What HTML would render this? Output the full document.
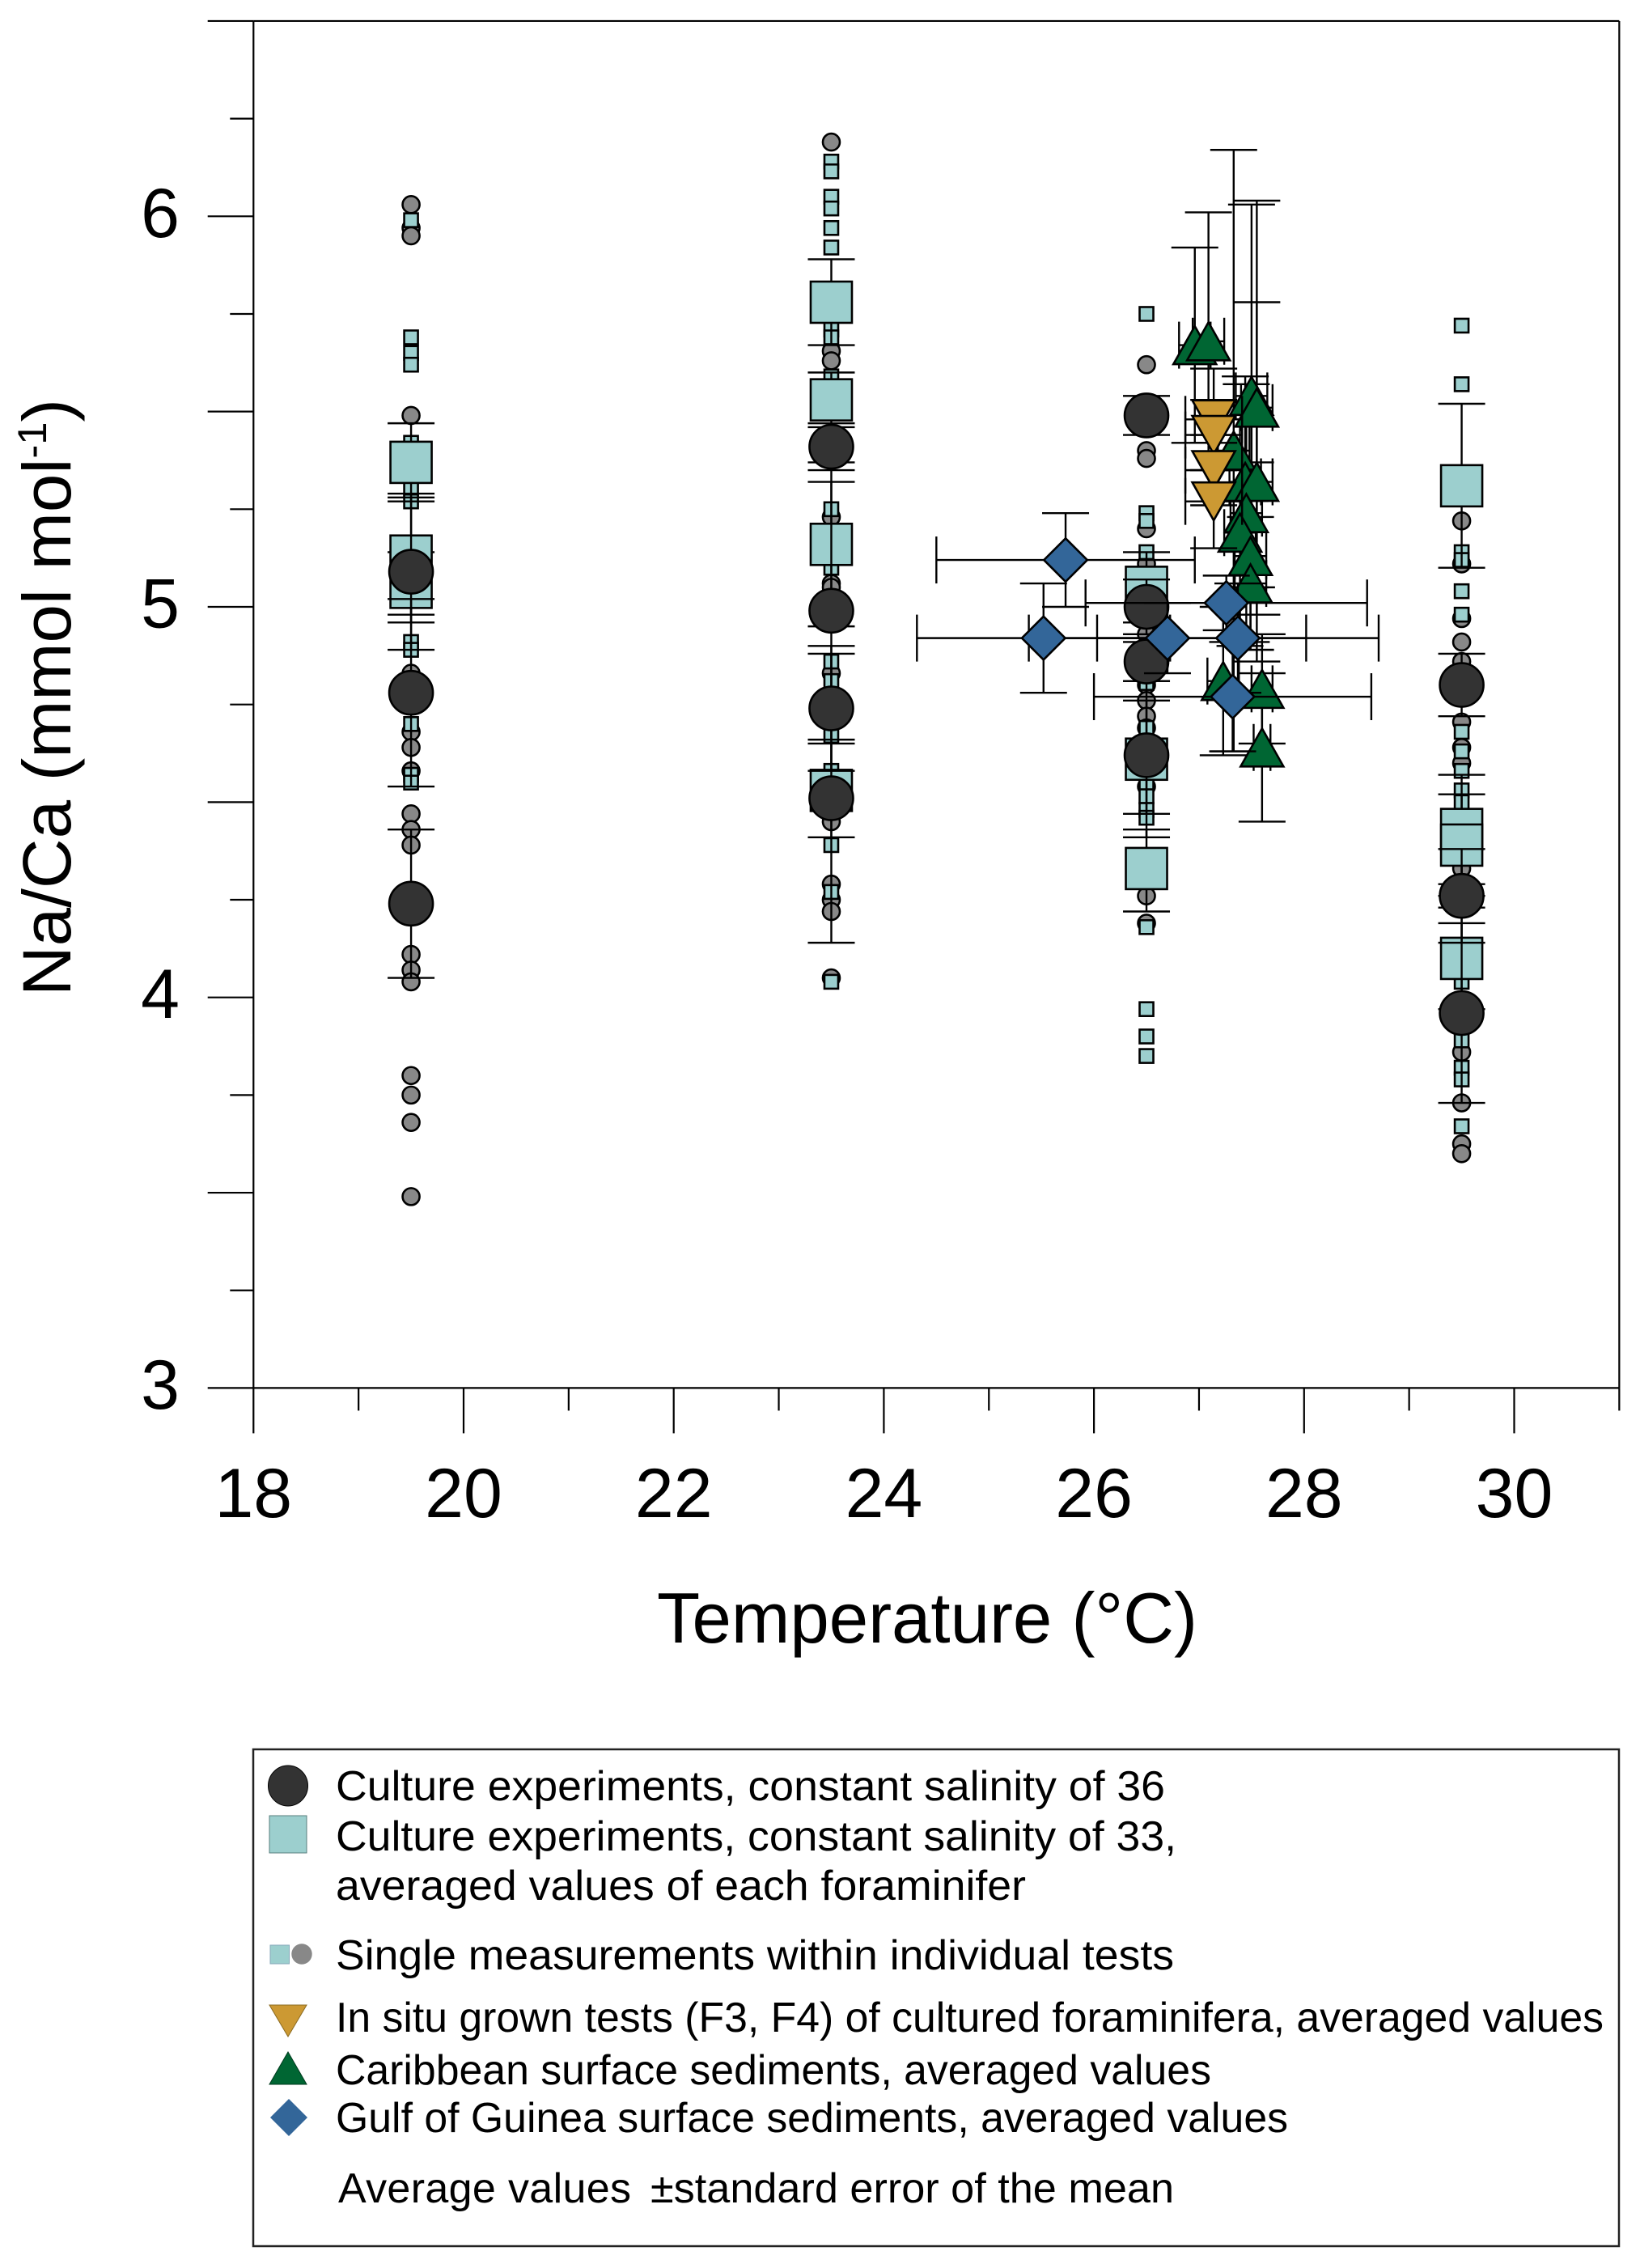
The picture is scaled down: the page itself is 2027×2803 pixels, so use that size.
<!DOCTYPE html>
<html lang="en">
<head>
<meta charset="utf-8">
<title>Na/Ca versus temperature</title>
<style>
html,body{margin:0;padding:0;background:#fff}
svg{display:block}
text{font-family:"Liberation Sans",Arial,sans-serif;fill:#000}
</style>
</head>
<body>
<svg id="chart" xmlns="http://www.w3.org/2000/svg" width="2027" height="2803" viewBox="0 0 2027 2803">
  <rect x="0" y="0" width="2027" height="2803" fill="#fff"/>
  <g id="axes"></g>
  <g id="marks"></g>
  <text x="812" y="2030" font-size="88" textLength="668" lengthAdjust="spacingAndGlyphs">Temperature (°C)</text>
  <text transform="translate(87,1231) rotate(-90)" font-size="84" textLength="738" lengthAdjust="spacingAndGlyphs">Na/Ca (mmol mol<tspan font-size="50" dy="-30">-1</tspan><tspan dy="30">)</tspan></text>

  <g>
    <rect x="313" y="2162" width="1688" height="614" fill="#fff" stroke="#222" stroke-width="2.5"/>
    <ellipse cx="356" cy="2207" rx="24.5" ry="25" fill="#333" stroke="#000" stroke-width="1"/>
    <rect x="333" y="2244" width="46" height="46" fill="#9ccfce" stroke="#5a7f7e" stroke-width="1"/>
    <rect x="334" y="2404" width="23.5" height="23" fill="#9ccfce" stroke="#8ab" stroke-width="1"/>
    <circle cx="373" cy="2415" r="12.7" fill="#888"/>
    <polygon points="333,2478 379,2478 356,2517" fill="#cc9933" stroke="#8a6a20" stroke-width="1"/>
    <polygon points="333,2576 379,2576 356,2536" fill="#006633" stroke="#003a1d" stroke-width="1"/>
    <polygon points="357,2594 380,2617 357,2640 334,2617" fill="#336699"/>
    <text x="415" y="2225" font-size="52" textLength="1025" lengthAdjust="spacingAndGlyphs">Culture experiments, constant salinity of 36</text>
    <text x="415" y="2287" font-size="52" textLength="1039" lengthAdjust="spacingAndGlyphs">Culture experiments, constant salinity of 33,</text>
    <text x="415" y="2348" font-size="52" textLength="853" lengthAdjust="spacingAndGlyphs">averaged values of each foraminifer</text>
    <text x="415" y="2434" font-size="52" textLength="1036" lengthAdjust="spacingAndGlyphs">Single measurements within individual tests</text>
    <text x="415" y="2511" font-size="52" textLength="1567" lengthAdjust="spacingAndGlyphs">In situ grown tests (F3, F4) of cultured foraminifera, averaged values</text>
    <text x="415" y="2576" font-size="52" textLength="1082" lengthAdjust="spacingAndGlyphs">Caribbean surface sediments, averaged values</text>
    <text x="415" y="2635" font-size="52" textLength="1177" lengthAdjust="spacingAndGlyphs">Gulf of Guinea surface sediments, averaged values</text>
    <text x="418" y="2722" font-size="52" textLength="362" lengthAdjust="spacing">Average values</text>
    <text x="804" y="2722" font-size="52" textLength="647" lengthAdjust="spacingAndGlyphs">±standard error of the mean</text>
  </g>
</svg>
<script>
// ---- axis tick data ----
const xTickValues = [18,19,20,21,22,23,24,25,26,27,28,29,30,31];
const xTickLabels = ["18","","20","","22","","24","","26","","28","","30",""];
const yTickValues = [3,3.25,3.5,3.75,4,4.25,4.5,4.75,5,5.25,5.5,5.75,6,6.25,6.5];
const yMajorValues = [3,3.5,4,4.5,5,5.5,6,6.5];
const yLabelValues = [3,4,5,6];

// ---- single measurements: grey circles ----
const singleCircleTemps = [19.5,23.5,26.5,29.5];
const singleCircles195 = [6.03,5.97,5.95,5.49,5.12,4.83,4.68,4.64,4.58,4.47,4.43,4.39,4.11,4.07,4.04,3.80,3.75,3.68,3.49];
const singleCircles235 = [6.19,5.655,5.63,5.23,5.06,5.05,4.83,4.45,4.29,4.25,4.22,4.05];
const singleCircles265 = [5.62,5.40,5.38,5.20,5.11,4.93,4.80,4.76,4.72,4.69,4.54,4.26,4.19];
const singleCircles295 = [5.22,5.11,4.97,4.91,4.86,4.705,4.64,4.60,4.33,3.86,3.73,3.625,3.60];

// ---- single measurements: teal squares ----
const singleSquares195 = [5.99,5.69,5.65,5.62,5.42,5.30,5.27,5.15,5.05,4.91,4.89,4.70,4.57,4.55];
const singleSquares235 = [6.14,6.115,6.05,6.02,5.97,5.92,5.71,5.69,5.59,5.25,5.10,4.86,4.81,4.67,4.58,4.39,4.27,4.04];
const singleSquares265 = [5.75,5.24,5.22,5.14,4.805,4.69,4.55,4.515,4.48,4.46,4.18,3.97,3.90,3.85];
const singleSquares295 = [5.72,5.57,5.14,5.12,5.04,4.98,4.68,4.63,4.58,4.53,4.50,4.04,3.89,3.82,3.79,3.67];

// ---- salinity 33 averages ----
const squareTemps = [19.5,19.5,19.5,23.5,23.5,23.5,23.5,26.5,26.5,26.5,29.5,29.5,29.5,29.5];
const squareValues = [5.37,5.13,5.05,5.78,5.53,5.16,4.53,5.05,4.61,4.33,5.31,4.43,4.39,4.10];
const squareHigh = [5.47,5.28,5.14,5.89,5.60,5.37,4.65,5.14,4.81,4.43,5.52,4.57,4.52,4.23];
const squareLow = [5.27,4.98,4.96,5.67,5.46,4.95,4.41,4.96,4.41,4.22,5.10,4.29,4.26,3.97];

// ---- salinity 36 averages ----
const circleTemps = [19.5,19.5,19.5,23.5,23.5,23.5,23.5,26.5,26.5,26.5,26.5,29.5,29.5,29.5];
const circleValues = [5.09,4.78,4.24,5.41,4.99,4.74,4.51,5.49,5.00,4.86,4.62,4.80,4.26,3.96];
const circleHigh = [5.29,5.02,4.43,5.47,5.32,4.90,4.88,5.54,5.07,4.91,4.76,4.88,4.38,4.19];
const circleLow = [4.89,4.54,4.05,5.35,4.66,4.58,4.14,5.44,4.93,4.81,4.47,4.72,4.14,3.73];

// ---- Caribbean surface sediments ----
const caribbeanTemps = [26.96,27.09,27.50,27.55,27.33,27.44,27.55,27.45,27.39,27.49,27.49,27.23,27.60,27.60];
const caribbeanValues = [5.67,5.68,5.54,5.51,5.40,5.32,5.32,5.24,5.19,5.13,5.06,4.81,4.79,4.64];
const caribbeanHigh = [5.92,6.01,6.03,6.04,6.17,5.59,5.78,5.57,5.48,5.37,5.23,5.00,4.93,4.83];
const caribbeanLow = [5.42,5.35,5.05,4.98,4.63,5.05,4.86,4.91,4.90,4.89,4.89,4.62,4.65,4.45];
const caribbeanTempErr = [0.15,0.15,0.15,0.15,0.15,0.15,0.15,0.15,0.15,0.15,0.15,0.15,0.10,0.08];

// ---- In situ grown tests ----
const inSituTemps = [27.14,27.14,27.14,27.14];
const inSituValues = [5.48,5.44,5.35,5.27];
const inSituHigh = [5.61,5.53,5.44,5.42];
const inSituLow = [5.35,5.35,5.26,5.15];
const inSituTempErr = [0.27,0.27,0.27,0.27];

// ---- Gulf of Guinea surface sediments ----
const guineaTemps = [25.73,25.52,26.70,27.37,27.26,27.32];
const guineaValues = [5.12,4.92,4.92,4.92,5.01,4.77];
const guineaHigh = [5.24,5.06,5.01,5.06,5.08,4.91];
const guineaLow = [5.00,4.78,4.83,4.78,4.94,4.63];
const guineaTempErr = [1.23,1.205,1.32,1.34,1.34,1.32];

// ---- axis functions ----
function xScale(t){ return 313.3 + (t - 18) * 129.85; }
function yScale(v){ return 267.3 + (6 - v) * 482.7; }

const NS = 'http://www.w3.org/2000/svg';
const axesLayer = document.getElementById('axes');
const marksLayer = document.getElementById('marks');
const CAP = 29;

function line(parent, x1, y1, x2, y2, width, name){
  const el = document.createElementNS(NS, 'line');
  
  
  el.setAttribute('x1', x1);
  el.setAttribute('y1', y1);
  el.setAttribute('x2', x2);
  el.setAttribute('y2', y2);
  el.setAttribute('stroke', '#000');
  el.setAttribute('stroke-width', width);
  parent.appendChild(el);
}
function label(x, y, anchor, str, name){
  const el = document.createElementNS(NS, 'text');
  
  
  el.setAttribute('x', x);
  el.setAttribute('y', y);
  el.setAttribute('text-anchor', anchor);
  el.setAttribute('font-size', '86');
  el.textContent = str;
  axesLayer.appendChild(el);
}

// axes
const yBottom = yScale(3), yTop = yScale(6.5), xLeft = xScale(18), xRight = xScale(31);
line(axesLayer, xLeft, yTop, xRight, yTop, 2.2, 'plot-top-border');
line(axesLayer, xLeft, yBottom, xRight, yBottom, 2.2, 'x-axis-line');
line(axesLayer, xLeft, yTop, xLeft, yBottom, 2.2, 'y-axis-line');
line(axesLayer, xRight, yTop, xRight, yBottom, 2.2, 'plot-right-border');
xTickValues.forEach(function(t, i){
  const major = xTickLabels[i] !== '';
  line(axesLayer, xScale(t), yBottom, xScale(t), yBottom + (major ? 56 : 28), 2.2, 'x-tick');
  if (major) { label(xScale(t), 1875, 'middle', xTickLabels[i], 'x-tick-label'); }
});
yTickValues.forEach(function(v){
  const major = yMajorValues.indexOf(v) >= 0;
  line(axesLayer, xLeft, yScale(v), xLeft - (major ? 56.6 : 29), yScale(v), 2.2, 'y-tick');
});
yLabelValues.forEach(function(v){
  label(222, yScale(v) + 25.5, 'end', String(v), 'y-tick-label');
});

// marker helpers
function circle(t, v, r, fill, name){
  const el = document.createElementNS(NS, 'circle');
  
  
  el.setAttribute('cx', xScale(t));
  el.setAttribute('cy', yScale(v));
  el.setAttribute('r', r);
  el.setAttribute('fill', fill);
  el.setAttribute('stroke', '#000');
  el.setAttribute('stroke-width', '2.6');
  marksLayer.appendChild(el);
}
function square(t, v, half, name){
  const el = document.createElementNS(NS, 'rect');
  
  
  el.setAttribute('x', xScale(t) - half);
  el.setAttribute('y', yScale(v) - half);
  el.setAttribute('width', half * 2);
  el.setAttribute('height', half * 2);
  el.setAttribute('fill', '#9ccfce');
  el.setAttribute('stroke', '#000');
  el.setAttribute('stroke-width', '2.6');
  marksLayer.appendChild(el);
}
function polygon(t, v, offsets, fill, name){
  const cx = xScale(t), cy = yScale(v);
  const el = document.createElementNS(NS, 'polygon');
  
  
  el.setAttribute('points', offsets.map(function(o){ return (cx + o[0]) + ',' + (cy + o[1]); }).join(' '));
  el.setAttribute('fill', fill);
  el.setAttribute('stroke', '#000');
  el.setAttribute('stroke-width', '2.6');
  marksLayer.appendChild(el);
}
function yError(t, high, low){
  const x = xScale(t);
  line(marksLayer, x, yScale(high), x, yScale(low), 2.4, 'y-error-bar');
  line(marksLayer, x - CAP, yScale(high), x + CAP, yScale(high), 2.4, 'y-error-cap');
  line(marksLayer, x - CAP, yScale(low), x + CAP, yScale(low), 2.4, 'y-error-cap');
}
function xError(t, v, err){
  const y = yScale(v), a = xScale(t - err), b = xScale(t + err);
  line(marksLayer, a, y, b, y, 2.4, 'x-error-bar');
  line(marksLayer, a, y - CAP, a, y + CAP, 2.4, 'x-error-cap');
  line(marksLayer, b, y - CAP, b, y + CAP, 2.4, 'x-error-cap');
}

// single measurements
[singleCircles195, singleCircles235, singleCircles265, singleCircles295].forEach(function(vals, c){
  vals.forEach(function(v){ circle(singleCircleTemps[c], v, 10.5, '#888888', 'single-measurement-circle'); });
});
[singleSquares195, singleSquares235, singleSquares265, singleSquares295].forEach(function(vals, c){
  vals.forEach(function(v){ square(singleCircleTemps[c], v, 8.5, 'single-measurement-square'); });
});

// salinity 33 averages
squareValues.forEach(function(v, i){
  yError(squareTemps[i], squareHigh[i], squareLow[i]);
});
squareValues.forEach(function(v, i){
  square(squareTemps[i], v, 25.5, 'salinity-33-average');
});

// salinity 36 averages
circleValues.forEach(function(v, i){
  yError(circleTemps[i], circleHigh[i], circleLow[i]);
});
circleValues.forEach(function(v, i){
  circle(circleTemps[i], v, 27, '#333333', 'salinity-36-average');
});

// Caribbean
const triangleUp = [[0,-23.5],[26.5,23.5],[-26.5,23.5]];
const triangleDown = [[0,23.5],[26.5,-23.5],[-26.5,-23.5]];
const diamond = [[0,-26.8],[26.8,0],[0,26.8],[-26.8,0]];
caribbeanValues.forEach(function(v, i){
  yError(caribbeanTemps[i], caribbeanHigh[i], caribbeanLow[i]);
  xError(caribbeanTemps[i], v, caribbeanTempErr[i]);
});
caribbeanValues.forEach(function(v, i){
  polygon(caribbeanTemps[i], v, triangleUp, '#006633', 'caribbean-average');
});

// In situ
inSituValues.forEach(function(v, i){
  yError(inSituTemps[i], inSituHigh[i], inSituLow[i]);
  xError(inSituTemps[i], v, inSituTempErr[i]);
});
inSituValues.forEach(function(v, i){
  polygon(inSituTemps[i], v, triangleDown, '#cc9933', 'in-situ-average');
});

// Gulf of Guinea
guineaValues.forEach(function(v, i){
  yError(guineaTemps[i], guineaHigh[i], guineaLow[i]);
  xError(guineaTemps[i], v, guineaTempErr[i]);
});
guineaValues.forEach(function(v, i){
  polygon(guineaTemps[i], v, diamond, '#336699', 'guinea-average');
});
</script>
</body>
</html>
